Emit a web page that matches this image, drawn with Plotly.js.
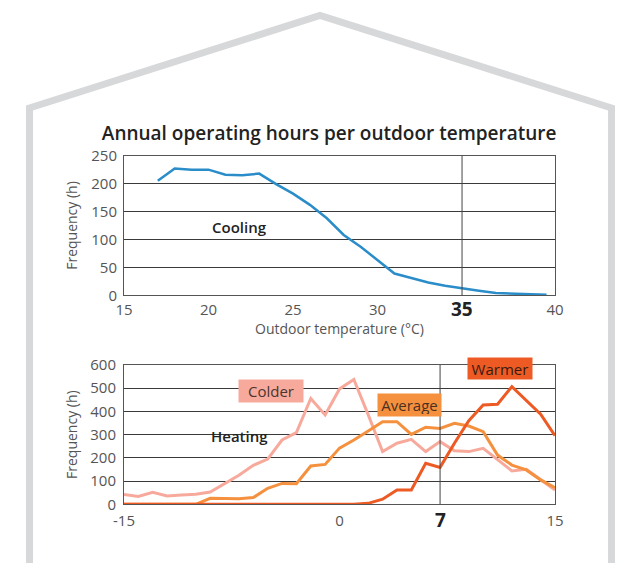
<!DOCTYPE html>
<html>
<head>
<meta charset="utf-8">
<script src="https://cdn.plot.ly/plotly-3.0.1.min.js"></script>
<style>html,body{margin:0;padding:0;background:#fff;}#chart{width:627px;height:563px;}</style>
</head>
<body>
<div id="chart"></div>
<script>
// ---- Cooling data (top chart) ----
const coolTemp = [17,18,19,20,21,22,23,24,25,26,27,28,29,30,31,32,33,34,35,36,37,38,39,40];
const coolHours = [205,227,225,225,216,215,218,199,182,162,138,108,87,63,39,31,23,17,12,8,4,3,2,1];
const coolMarker = 35;
const coolTickVals = [15,20,25,30,40.5];
const coolTickText = ['15','20','25','30','40'];

// ---- Heating data (bottom chart) ----
const heatTemp = [-15,-14,-13,-12,-11,-10,-9,-8,-7,-6,-5,-4,-3,-2,-1,0,1,2,3,4,5,6,7,8,9,10,11,12,13,14,15];
const colderHours = [42,34,52,36,40,43,53,88,125,168,195,277,309,456,385,497,538,385,227,263,280,227,270,231,227,241,191,144,151,105,62];
const averageHours = [0,0,0,0,0,0,26,24,24,29,69,90,89,165,172,242,277,316,356,356,301,332,327,349,337,313,212,169,148,105,72];
const warmerHours = [0,0,0,0,0,0,0,0,0,0,0,0,0,0,0,0,0,4,22,62,62,177,159,263,360,428,431,507,449,388,296];
const heatMarker = 7;
const heatTickVals = [-15,0,15];
const heatTickText = ['-15','0','15'];

const W = 627, H = 563;
const px = x => x / W;
const py = y => 1 - y / H;

const FONT = 'Open Sans, sans-serif';
const GRID = '#3a3a3a';
const TICKC = '#555';
const C_BLUE = '#2a8dc9', C_PINK = '#f7aa9c', C_AVG = '#f5913e', C_WARM = '#ee5a24';

const traces = [
  {x: coolTemp, y: coolHours, type: 'scatter', mode: 'lines', line: {color: C_BLUE, width: 2.5}, xaxis: 'x', yaxis: 'y', name: 'Cooling'},
  {x: heatTemp, y: colderHours, type: 'scatter', mode: 'lines', line: {color: C_PINK, width: 3}, xaxis: 'x2', yaxis: 'y2', name: 'Colder'},
  {x: heatTemp, y: averageHours, type: 'scatter', mode: 'lines', line: {color: C_AVG, width: 3}, xaxis: 'x2', yaxis: 'y2', name: 'Average'},
  {x: heatTemp, y: warmerHours, type: 'scatter', mode: 'lines', line: {color: C_WARM, width: 3}, xaxis: 'x2', yaxis: 'y2', name: 'Warmer'}
];

const xDom = [px(124), px(555)];
const axBase = {
  showline: true, mirror: true, linecolor: '#555', linewidth: 1,
  zeroline: false, ticks: '', fixedrange: true,
  tickfont: {family: FONT, size: 15, color: TICKC}
};

const house = 'M ' + px(29.5) + ',' + py(575) + ' L ' + px(29.5) + ',' + py(108) +
  ' L ' + px(320) + ',' + py(15.5) + ' L ' + px(611.5) + ',' + py(108) +
  ' L ' + px(611.5) + ',' + py(575);

function label(x, y, text, opts) {
  return Object.assign({xref: 'paper', yref: 'paper', x: px(x), y: py(y), text: text, showarrow: false,
    xanchor: 'center', yanchor: 'middle'}, opts);
}

const layout = {
  width: W, height: H,
  margin: {l: 0, r: 0, t: 0, b: 0},
  paper_bgcolor: '#fff', plot_bgcolor: '#fff',
  showlegend: false,
  font: {family: FONT, color: '#333'},
  title: {text: 'Annual operating hours per outdoor temperature', x: 0.525, xanchor: 'center', y: py(133), yanchor: 'middle',
          font: {family: FONT, size: 19, color: '#222', weight: 600}},
  xaxis: Object.assign({}, axBase, {
    domain: xDom, range: [15, 40.5], tickmode: 'array', tickvals: coolTickVals, ticktext: coolTickText,
    showgrid: false, anchor: 'y', ticklabelstandoff: 1,
    title: {text: 'Outdoor temperature (°C)', standoff: 3, font: {family: FONT, size: 14, color: TICKC}}
  }),
  yaxis: Object.assign({}, axBase, {
    domain: [py(295.3), py(155.7)], range: [0, 250], dtick: 50, tick0: 0,
    showgrid: true, gridcolor: GRID, gridwidth: 1, anchor: 'x', ticklabelstandoff: 3,
    title: {text: 'Frequency (h)', standoff: 10, font: {family: FONT, size: 14, color: TICKC}}
  }),
  xaxis2: Object.assign({}, axBase, {
    domain: xDom, range: [-15, 15], tickmode: 'array', tickvals: heatTickVals, ticktext: heatTickText,
    showgrid: false, anchor: 'y2', ticklabelstandoff: 3
  }),
  yaxis2: Object.assign({}, axBase, {
    domain: [py(504.3), py(365)], range: [0, 600], dtick: 100, tick0: 0,
    showgrid: true, gridcolor: GRID, gridwidth: 1, anchor: 'x2', ticklabelstandoff: 4,
    title: {text: 'Frequency (h)', standoff: 9, font: {family: FONT, size: 14, color: TICKC}}
  }),
  shapes: [
    {type: 'path', xref: 'paper', yref: 'paper', path: house, line: {color: '#d7d8da', width: 7}, layer: 'below'},
    {type: 'line', xref: 'x', yref: 'y domain', x0: coolMarker, x1: coolMarker, y0: 0, y1: 1, line: {color: '#444', width: 1}},
    {type: 'line', xref: 'x2', yref: 'y2 domain', x0: heatMarker, x1: heatMarker, y0: 0, y1: 1, line: {color: '#444', width: 1}}
  ],
  annotations: [
    {xref: 'x', yref: 'paper', x: coolMarker, y: py(309), text: '<b>' + coolMarker + '</b>', showarrow: false,
     font: {family: FONT, size: 19, color: '#222'}, xanchor: 'center', yanchor: 'middle'},
    {xref: 'x2', yref: 'paper', x: heatMarker, y: py(520), text: '<b>' + heatMarker + '</b>', showarrow: false,
     font: {family: FONT, size: 19, color: '#222'}, xanchor: 'center', yanchor: 'middle'},
    label(239, 227, 'Cooling', {font: {family: FONT, size: 15, color: '#222', weight: 600}}),
    label(239, 436, 'Heating', {font: {family: FONT, size: 15, color: '#222', weight: 600}}),
    label(271, 391, 'Colder', {bgcolor: C_PINK, width: 60, height: 18, borderpad: 2,
      font: {family: FONT, size: 15, color: '#4a3530'}}),
    label(409.5, 405, 'Average', {bgcolor: C_AVG, width: 59, height: 18, borderpad: 2,
      font: {family: FONT, size: 15, color: '#4a3020'}}),
    label(500, 368.5, 'Warmer', {bgcolor: C_WARM, width: 60, height: 17, borderpad: 2,
      font: {family: FONT, size: 15, color: '#3a1a10'}})
  ]
};

Plotly.newPlot('chart', traces, layout, {displayModeBar: false, staticPlot: true});
</script>
</body>
</html>
